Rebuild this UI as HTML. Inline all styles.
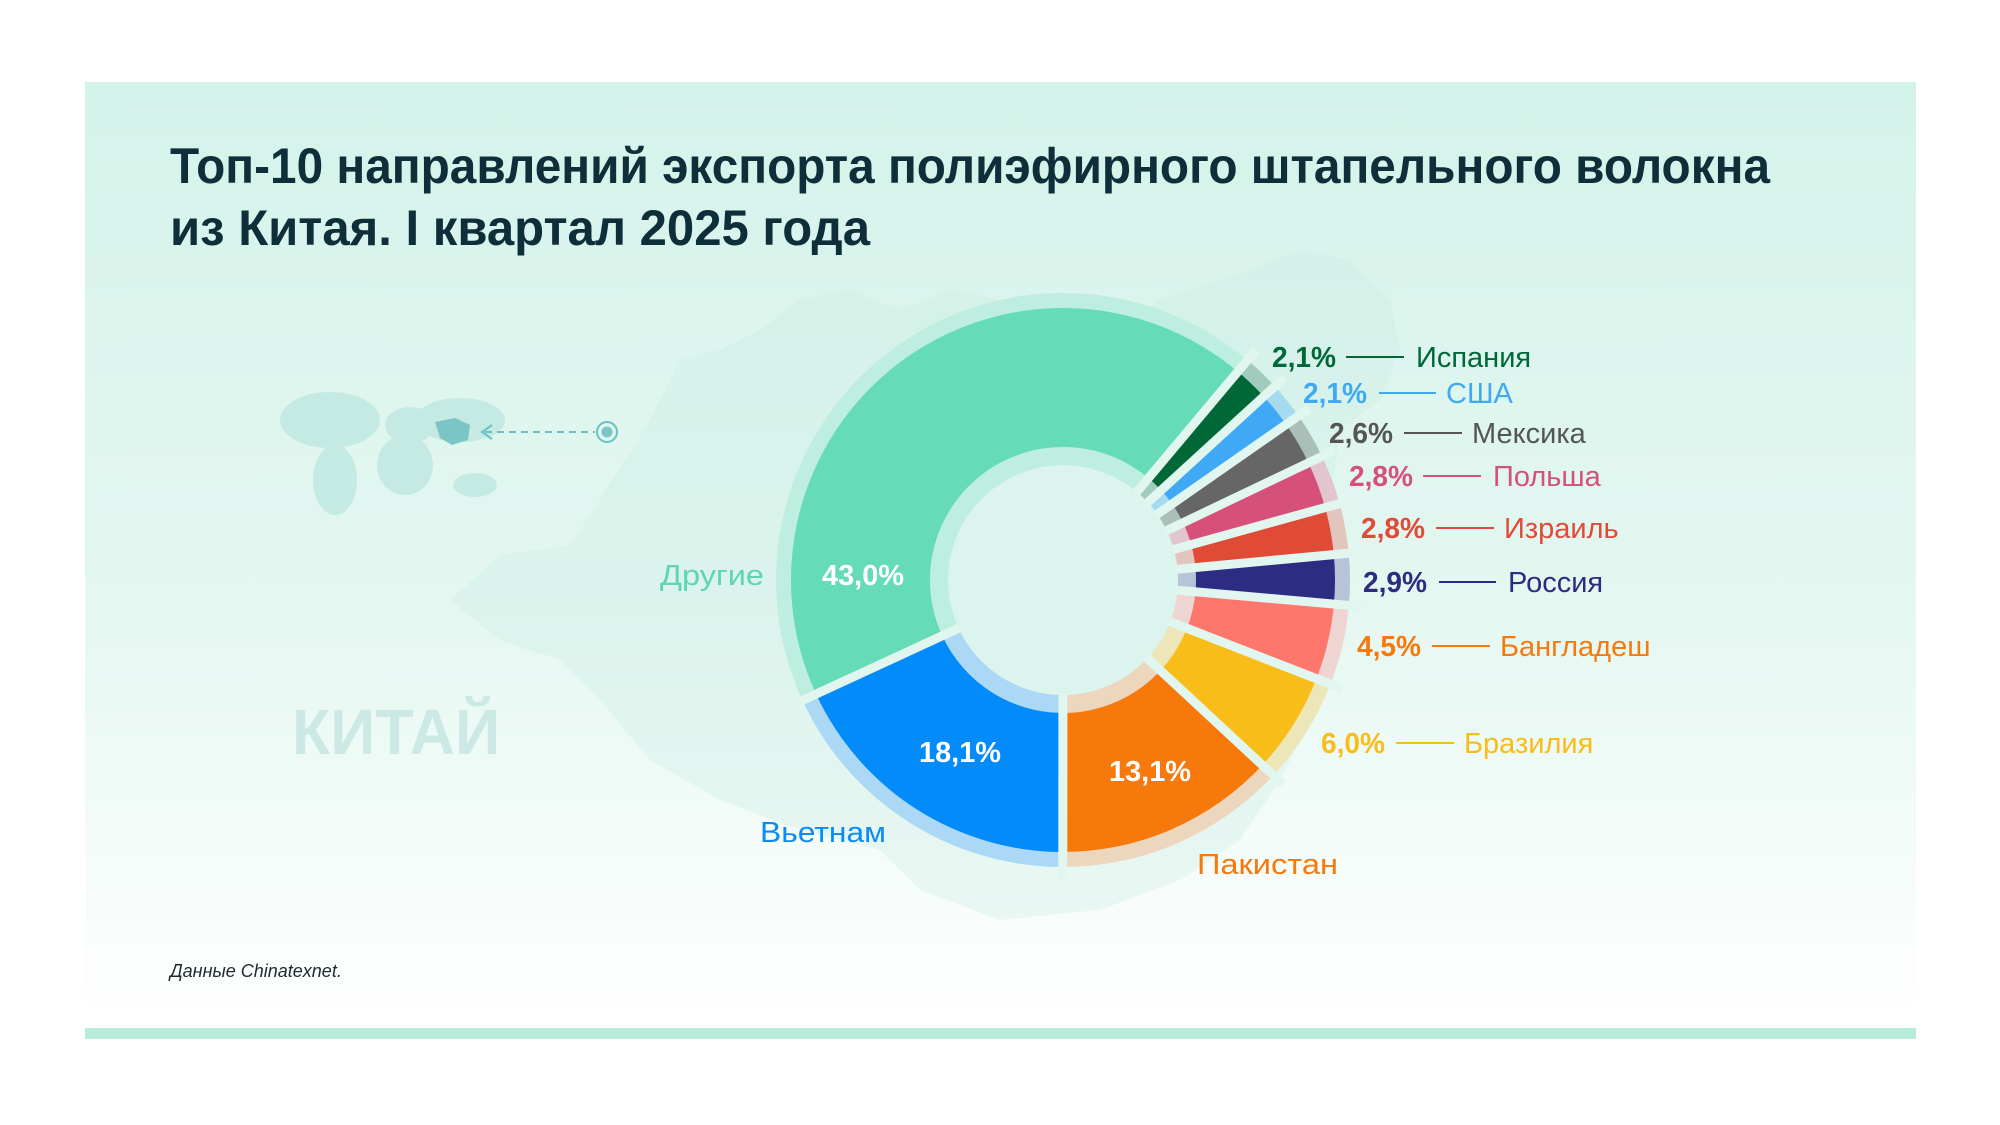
<!DOCTYPE html>
<html><head><meta charset="utf-8">
<style>
html,body{margin:0;padding:0;background:#fff;}
svg{display:block;}
text{font-family:"Liberation Sans","DejaVu Sans",sans-serif;}
</style></head>
<body>
<svg id="s" width="2000" height="1125" viewBox="0 0 2000 1125" xmlns="http://www.w3.org/2000/svg">
<defs>
<linearGradient id="bg" x1="0" y1="0" x2="0" y2="1">
<stop offset="0" stop-color="#d4f3ea"/>
<stop offset="0.55" stop-color="#e4f7f1"/>
<stop offset="1" stop-color="#ffffff"/>
</linearGradient>
</defs>
<rect x="0" y="0" width="2000" height="1125" fill="#fff"/>
<rect x="85" y="82" width="1831" height="940" fill="url(#bg)"/>
<rect x="85" y="1028" width="1831" height="11" fill="#b8ebdc"/>
<polygon fill="#c6ebe2" opacity="0.3" points="450,600 500,555 570,545 600,500 650,420 680,360 720,350 760,330 800,300 850,290 900,310 950,290 1000,300 1060,330 1120,330 1160,300 1250,270 1300,250 1350,260 1390,300 1400,350 1380,400 1340,430 1330,500 1300,560 1340,620 1320,700 1280,780 1240,840 1180,880 1100,910 1000,920 920,890 880,850 800,830 720,800 650,760 600,700 560,660 500,640"/>
<g fill="#bfe8e1" opacity="0.8">
<ellipse cx="330" cy="420" rx="50" ry="28"/>
<ellipse cx="335" cy="480" rx="22" ry="35"/>
<ellipse cx="410" cy="425" rx="25" ry="18"/>
<ellipse cx="405" cy="465" rx="28" ry="30"/>
<ellipse cx="460" cy="420" rx="45" ry="22"/>
<ellipse cx="475" cy="485" rx="22" ry="12"/>
</g>
<path d="M435 422 L455 418 L470 425 L468 440 L452 445 L440 438Z" fill="#7cc5c6"/>
<line x1="485" y1="432" x2="595" y2="432" stroke="#6cc0c4" stroke-width="2" stroke-dasharray="7,5"/>
<path d="M492 425 L482 432 L492 439" fill="none" stroke="#6cc0c4" stroke-width="2"/>
<circle cx="607" cy="432" r="10" fill="none" stroke="#6cc0c4" stroke-width="2"/>
<circle cx="607" cy="432" r="5.5" fill="#7cc5c6"/>
<text x="292" y="754" font-size="64" font-weight="bold" fill="#cde9e5" textLength="208" lengthAdjust="spacingAndGlyphs">КИТАЙ</text>

<text x="170" y="183" font-size="50" font-weight="bold" fill="#0e2e3a" textLength="1600" lengthAdjust="spacingAndGlyphs">Топ-10 направлений экспорта полиэфирного штапельного волокна</text>
<text x="170" y="245" font-size="50" font-weight="bold" fill="#0e2e3a" textLength="700" lengthAdjust="spacingAndGlyphs">из Китая. I квартал 2025 года</text>

<g id="donut"></g>

<g font-size="29">
<text x="822" y="585" font-weight="bold" fill="#fff" textLength="82" lengthAdjust="spacingAndGlyphs">43,0%</text>
<text x="919" y="762" font-weight="bold" fill="#fff" textLength="82" lengthAdjust="spacingAndGlyphs">18,1%</text>
<text x="1109" y="781" font-weight="bold" fill="#fff" textLength="82" lengthAdjust="spacingAndGlyphs">13,1%</text>
<text x="660" y="585" fill="#5fd6b1" textLength="104" lengthAdjust="spacingAndGlyphs">Другие</text>
<text x="760" y="842" fill="#0b8bf5" textLength="126" lengthAdjust="spacingAndGlyphs">Вьетнам</text>
<text x="1197" y="874" fill="#f7790c" textLength="141" lengthAdjust="spacingAndGlyphs">Пакистан</text>
</g>
<g id="labels" font-size="29"></g>
<text x="170" y="977" font-size="18" font-style="italic" fill="#1d2a30">Данные Chinatexnet.</text>
</svg>
<script>
(function(){
var cx=1063,cy=580;
var data=[
["#006837","#a0cbbd",2.1],["#3fa9f5","#a6dbef",2.1],["#666666","#a9bfb8",2.6],
["#d6517a","#e3c5d0",2.8],["#e04b38","#e2c6bd",2.8],["#2c2c83","#b6c4d8",2.9],
["#fe776c","#eed5d1",4.5],["#f8bd19","#ede6b8",6.0],["#f7790c","#ecd6bd",13.1],
["#048bfa","#aad8f5",18.1],["#66dbb8","#bdeee0",43.0]];
function pt(r,a){var t=(a-90)*Math.PI/180;return [cx+r*Math.cos(t),cy+r*Math.sin(t)];}
function sector(r0,r1,a0,a1){
 var l=(a1-a0)>180?1:0;var p=pt(r1,a0),q=pt(r1,a1),u=pt(r0,a1),v=pt(r0,a0);
 return "M"+p[0]+" "+p[1]+" A"+r1+" "+r1+" 0 "+l+" 1 "+q[0]+" "+q[1]+" L"+u[0]+" "+u[1]+" A"+r0+" "+r0+" 0 "+l+" 0 "+v[0]+" "+v[1]+"Z";}
var g=document.getElementById("donut"),h="";var a=40;
var segs=[];
data.forEach(function(d){var s=a,e=a+d[2]*3.6;segs.push([s,e,d]);a=e;});
segs.forEach(function(s){h+='<path d="'+sector(115,287,s[0],s[1])+'" fill="'+s[2][1]+'"/>';});
segs.forEach(function(s){h+='<path d="'+sector(133,272,s[0],s[1])+'" fill="'+s[2][0]+'"/>';});
segs.forEach(function(s){var p=pt(105,s[0]),q=pt(300,s[0]);h+='<line x1="'+p[0]+'" y1="'+p[1]+'" x2="'+q[0]+'" y2="'+q[1]+'" stroke="#e2f6f0" stroke-width="9"/>';});
h+='<circle cx="'+cx+'" cy="'+cy+'" r="114" fill="#dcf4ee"/>';
g.innerHTML=h;
var L=[
["2,1%","Испания","#006837",1278,360,1352,1410,1422],
["2,1%","США","#3fa9f5",1309,396,1385,1442,1452],
["2,6%","Мексика","#555555",1335,436,1410,1468,1478],
["2,8%","Польша","#d6517a",1355,479,1429,1487,1499],
["2,8%","Израиль","#e04b38",1367,531,1442,1500,1510],
["2,9%","Россия","#2c2c83",1369,585,1445,1502,1514],
["4,5%","Бангладеш","#f7790c",1363,649,1438,1496,1506],
["6,0%","Бразилия","#f8bd19",1327,746,1402,1460,1470]];
var o="";
L.forEach(function(l){
 var dx=-6,dy=-3;
 o+='<text x="'+(l[3]+dx)+'" y="'+(l[4]+10+dy)+'" font-weight="bold" fill="'+l[2]+'" textLength="64" lengthAdjust="spacingAndGlyphs">'+l[0]+'</text>';
 o+='<line x1="'+(l[5]+dx)+'" y1="'+(l[4]+dy)+'" x2="'+(l[6]+dx)+'" y2="'+(l[4]+dy)+'" stroke="'+l[2]+'" stroke-width="2"/>';
 o+='<text x="'+(l[7]+dx)+'" y="'+(l[4]+10+dy)+'" fill="'+l[2]+'">'+l[1]+'</text>';
});
document.getElementById("labels").innerHTML=o;
})();
</script>
</body></html>
